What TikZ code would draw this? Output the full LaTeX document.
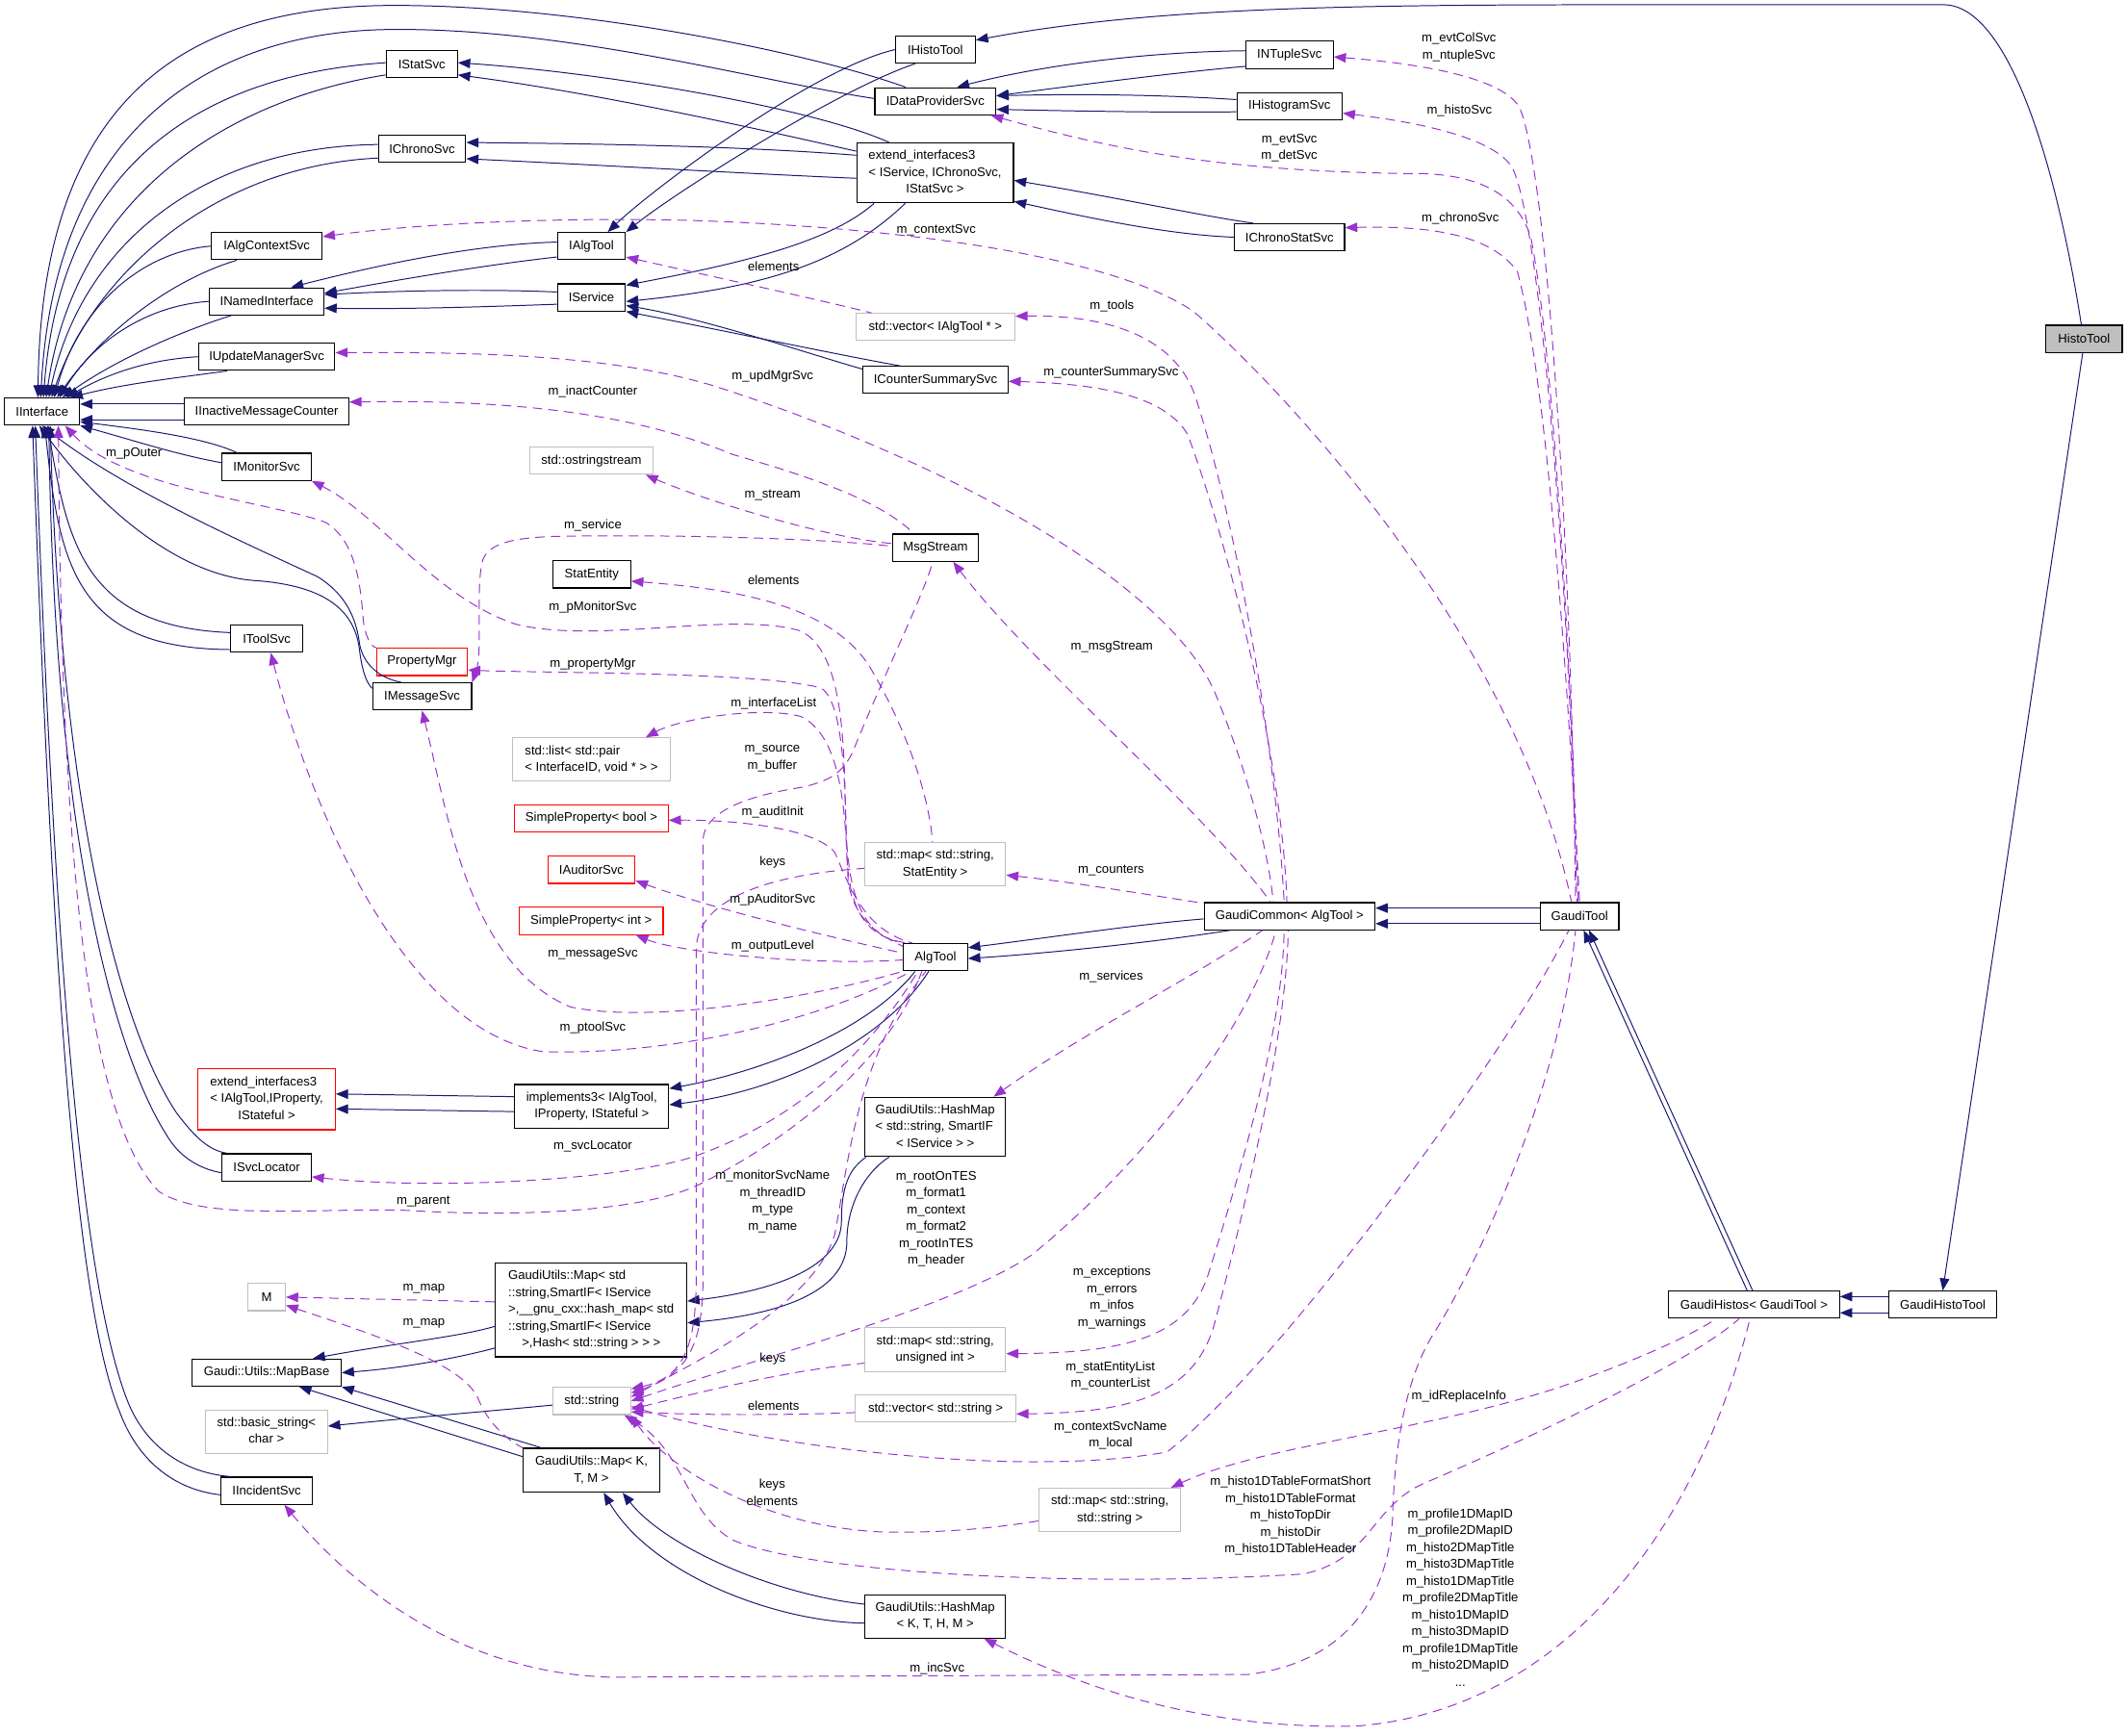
\documentclass[tikz,border=0pt]{standalone}
\usepackage{fontspec}
\setmainfont{Liberation Sans}
\usetikzlibrary{arrows.meta,positioning}
\definecolor{edgeblue}{HTML}{191970}
\definecolor{edgeviolet}{HTML}{9A32CD}
\definecolor{extgray}{HTML}{BFBFBF}
\newcommand{\dxfont}{\fontsize{9.3}{12.4}\selectfont}
\newcommand{\ml}[2]{\begin{tabular}{@{}l@{}}#1\\\multicolumn{1}{@{}c@{}}{#2}\end{tabular}}
\begin{document}
\begin{tikzpicture}[x=1pt,y=-1pt,
    clsbox/.style={draw=black, fill=white, line width=0.8pt, font=\dxfont, inner xsep=2pt, inner ysep=2pt, minimum height=20pt},
    extbox/.style={clsbox, draw=extgray},
    undocbox/.style={clsbox, draw=red},
    mainbox/.style={clsbox, fill=extgray},
    inh/.style={draw=edgeblue, line width=0.7pt, {Triangle[length=9pt,width=7pt]}-},
    usage/.style={draw=edgeviolet, line width=0.7pt, dash pattern=on 7pt off 4.5pt, {Triangle[length=9pt,width=7pt]}-},
    lbl/.style={font=\dxfont, inner sep=0pt, align=center}
  ]
    \useasboundingbox (0,0) rectangle (1568,1279);
    % classes
    \node[clsbox, minimum width=52.5pt] (IStatSvc) at (310.8,47.2) {IStatSvc};
    \node[clsbox, minimum width=64.3pt] (IChronoSvc) at (311,109.5) {IChronoSvc};
    \node[clsbox, minimum width=81.7pt] (IAlgCtx) at (196.5,181.4) {IAlgContextSvc};
    \node[clsbox, minimum width=84.3pt] (INamed) at (196.5,222.1) {INamedInterface};
    \node[clsbox, minimum width=100.4pt] (IUpd) at (196.5,262.9) {IUpdateManagerSvc};
    \node[clsbox, minimum width=55.3pt] (IIface) at (31,303.3) {IInterface};
    \node[clsbox, minimum width=121pt] (IInact) at (196.5,303.3) {IInactiveMessageCounter};
    \node[clsbox, minimum width=65.6pt] (IMon) at (196.5,344) {IMonitorSvc};
    \node[clsbox, minimum width=50.2pt] (IAlgTool) at (435.8,181.4) {IAlgTool};
    \node[clsbox, minimum width=50.2pt] (IService) at (435.8,219.2) {IService};
    \node[extbox, minimum width=90.4pt] (ostream) at (435.8,339.5) {std::ostringstream};
    \node[clsbox, minimum width=57.3pt] (StatEntity) at (436,423.3) {StatEntity};
    \node[clsbox, minimum width=58.9pt] (IHistoTool) at (689.2,36.6) {IHistoTool};
    \node[clsbox, minimum width=89.1pt] (IDataProv) at (689.2,74.6) {IDataProviderSvc};
    \node[clsbox, minimum width=115.5pt, minimum height=44.2pt] (extIS) at (689,127.4) {\ml{extend\_interfaces3\\< IService, IChronoSvc,}{IStatSvc >}};
    \node[clsbox, minimum width=64.2pt] (INTuple) at (950.2,40.4) {INTupleSvc};
    \node[clsbox, minimum width=77.6pt] (IHistSvc) at (950.2,78.4) {IHistogramSvc};
    \node[clsbox, minimum width=81pt] (IChronoStat) at (950.2,174.8) {IChronoStatSvc};
    \node[extbox, minimum width=117.1pt] (vecAlgTool) at (689.2,241) {std::vector< IAlgTool * >};
    \node[clsbox, minimum width=106.8pt] (ICounter) at (689.3,280) {ICounterSummarySvc};
    \node[clsbox, minimum width=63.2pt] (MsgStream) at (689.3,403.6) {MsgStream};
    \node[mainbox, minimum width=56.2pt] (HistoTool) at (1535.6,249.7) {HistoTool};
    \node[clsbox, minimum width=52.9pt] (IToolSvc) at (196.5,470.7) {IToolSvc};
    \node[undocbox, minimum width=66.9pt] (PropMgr) at (311,487.8) {PropertyMgr};
    \node[clsbox, minimum width=72.9pt] (IMsgSvc) at (311,513.3) {IMessageSvc};
    \node[extbox, minimum width=116.5pt, minimum height=32pt] (listPair) at (435.8,559.8) {\ml{std::list< std::pair}{< InterfaceID, void * > >}};
    \node[undocbox, minimum width=113.1pt] (SPbool) at (435.8,603) {SimpleProperty< bool >};
    \node[undocbox, minimum width=64.3pt] (IAuditor) at (435.8,641) {IAuditorSvc};
    \node[undocbox, minimum width=106.1pt] (SPint) at (435.6,678.7) {SimpleProperty< int >};
    \node[undocbox, minimum width=101.1pt, minimum height=44.8pt] (extAT) at (196.5,810.2) {\ml{extend\_interfaces3\\< IAlgTool,IProperty,}{IStateful >}};
    \node[clsbox, minimum width=113.5pt, minimum height=32pt] (impl3) at (436,815.2) {\ml{implements3< IAlgTool,}{IProperty, IStateful >}};
    \node[clsbox, minimum width=47.2pt] (AlgTool) at (689.3,705.4) {AlgTool};
    \node[extbox, minimum width=103.7pt, minimum height=32pt] (mapStat) at (689.1,636.9) {\ml{std::map< std::string,}{StatEntity >}};
    \node[clsbox, minimum width=125.8pt] (GCommon) at (950.2,675.2) {GaudiCommon< AlgTool >};
    \node[clsbox, minimum width=103.7pt, minimum height=43.7pt] (hashSvc) at (689.1,830.5) {\ml{GaudiUtils::HashMap\\< std::string, SmartIF}{< IService > >}};
    \node[clsbox, minimum width=57.9pt] (GaudiTool) at (1163.9,675.2) {GaudiTool};
    \node[clsbox, minimum width=65.6pt] (ISvcLoc) at (196.5,860.3) {ISvcLocator};
    \node[extbox, minimum width=27.5pt] (M) at (196.5,955.9) {M};
    \node[clsbox, minimum width=140.9pt, minimum height=69pt] (mapStd) at (435.6,965.4) {\ml{GaudiUtils::Map< std\\::string,SmartIF< IService\\>,\_\_gnu\_cxx::hash\_map< std\\::string,SmartIF< IService}{>,Hash< std::string > > >}};
    \node[clsbox, minimum width=109.8pt] (MapBase) at (196.5,1011.6) {Gaudi::Utils::MapBase};
    \node[extbox, minimum width=57.3pt] (stdstring) at (436,1032.5) {std::string};
    \node[extbox, minimum width=90pt, minimum height=32pt] (basicStr) at (196.3,1055) {\ml{std::basic\_string<}{char >}};
    \node[clsbox, minimum width=100.4pt, minimum height=32.4pt] (mapKTM) at (435.8,1083.5) {\ml{GaudiUtils::Map< K,}{T, M >}};
    \node[clsbox, minimum width=67.6pt] (IIncident) at (196.5,1098.6) {IIncidentSvc};
    \node[extbox, minimum width=103.7pt, minimum height=32.4pt] (mapUns) at (689.1,994.6) {\ml{std::map< std::string,}{unsigned int >}};
    \node[extbox, minimum width=118.2pt] (vecStr) at (689.3,1038) {std::vector< std::string >};
    \node[extbox, minimum width=104.1pt, minimum height=32.2pt] (mapStrStr) at (817.8,1112.8) {\ml{std::map< std::string,}{std::string >}};
    \node[clsbox, minimum width=103.7pt, minimum height=31.9pt] (hashKTHM) at (689.1,1191.2) {\ml{GaudiUtils::HashMap}{< K, T, H, M >}};
    \node[clsbox, minimum width=126pt] (GHistos) at (1292.4,961.5) {GaudiHistos< GaudiTool >};
    \node[clsbox, minimum width=79.3pt] (GHistoTool) at (1431.5,961.5) {GaudiHistoTool};
    % inheritance
    \draw[inh] ([xshift=-3pt]IIface.north) .. controls (30,60) and (150,4) .. (291,4) .. controls (430,4) and (600,40) .. ([xshift=-22pt]IDataProv.north);
    \draw[inh] ([xshift=-1pt]IIface.north) .. controls (40,100) and (150,22) .. (291,21.7) .. controls (420,21) and (560,60) .. ([yshift=2pt]IDataProv.west);
    \draw[inh] ([xshift=1pt]IIface.north) .. controls (45,120) and (150,55) .. ([yshift=1pt]IStatSvc.west);
    \draw[inh] ([xshift=3pt]IIface.north) .. controls (55,150) and (160,75) .. ([yshift=-8pt]IStatSvc.west);
    \draw[inh] ([xshift=5pt]IIface.north) .. controls (60,180) and (150,108) .. ([yshift=3pt]IChronoSvc.west);
    \draw[inh] ([xshift=7pt]IIface.north) .. controls (70,200) and (160,122) .. ([yshift=-7pt]IChronoSvc.west);
    \draw[inh] ([xshift=9pt]IIface.north) .. controls (60,220) and (110,185) .. (IAlgCtx.west);
    \draw[inh] ([xshift=11pt]IIface.north) .. controls (80,240) and (130,205) .. ([xshift=-22pt]IAlgCtx.south);
    \draw[inh] ([xshift=13pt]IIface.north) .. controls (70,250) and (110,225) .. (INamed.west);
    \draw[inh] ([xshift=15pt]IIface.north) .. controls (90,262) and (140,242) .. ([xshift=-26pt]INamed.south);
    \draw[inh] ([xshift=18pt]IIface.north) .. controls (80,275) and (110,265) .. (IUpd.west);
    \draw[inh] ([xshift=21pt]IIface.north) .. controls (95,282) and (135,278) .. ([xshift=-29pt]IUpd.south);
    \draw[inh] ([yshift=5.5pt]IIface.east) -- ([yshift=5.5pt]IInact.west);
    \draw[inh] ([yshift=-6pt]IIface.east) -- ([yshift=-6pt]IInact.west);
    \draw[inh] ([yshift=-7.5pt]IIface.east) .. controls (100,316) and (150,322) .. ([xshift=-22pt]IMon.north);
    \draw[inh] (IIface.south east) .. controls (100,325) and (130,335) .. ([yshift=3pt]IMon.west);
    \draw[inh] ([xshift=4pt]IIface.south) .. controls (50,400) and (62,462) .. ([yshift=4.5pt]IToolSvc.west);
    \draw[inh] ([xshift=2pt]IIface.south) .. controls (44,420) and (58,478) .. ([yshift=-8pt]IToolSvc.west);
    \draw[inh] ([xshift=-2pt]IIface.south) .. controls (70,370) and (130,425) .. (190,428) .. controls (240,432) and (262,450) .. (265,480) .. controls (267,495) and (270,503) .. ([yshift=6pt]IMsgSvc.west);
    \draw[inh] ([xshift=0pt]IIface.south) .. controls (90,360) and (180,400) .. (234,425) .. controls (258,440) and (263,460) .. (265,475) .. controls (268,490) and (280,500) .. ([xshift=-15pt]IMsgSvc.north);
    \draw[inh] ([xshift=6pt]IIface.south) .. controls (45,600) and (90,760) .. (130,820) .. controls (145,840) and (155,848) .. ([xshift=-29pt]ISvcLoc.north);
    \draw[inh] ([xshift=5pt]IIface.south) .. controls (40,620) and (85,780) .. (125,840) .. controls (135,855) and (150,862) .. ([yshift=-4pt]ISvcLoc.west);
    \draw[inh] ([xshift=-5pt]IIface.south) .. controls (40,700) and (60,950) .. (95,1035) .. controls (110,1070) and (140,1086) .. ([xshift=-26pt]IIncident.north);
    \draw[inh] ([xshift=-7pt]IIface.south) .. controls (38,700) and (55,960) .. (88,1040) .. controls (102,1078) and (130,1098) .. ([yshift=-3pt]IIncident.west);
    \draw[inh] ([yshift=7pt]IHistoTool.east) .. controls (850,5) and (1000,3.5) .. (1200,3.5) -- (1433,3.5) .. controls (1480,5) and (1515,120) .. ([xshift=-2pt]HistoTool.north);
    \draw[inh] (GHistoTool.north) -- ([xshift=-1pt]HistoTool.south);
    \draw[inh] ([yshift=6pt]GHistos.east) -- ([yshift=6pt]GHistoTool.west);
    \draw[inh] ([yshift=-6pt]GHistos.east) -- ([yshift=-6pt]GHistoTool.west);
    \draw[inh] ([xshift=3pt]GaudiTool.south) -- ([xshift=-5pt]GHistos.north);
    \draw[inh] ([xshift=7pt]GaudiTool.south) -- ([xshift=-1pt]GHistos.north);
    \draw[inh] ([yshift=6pt]GCommon.east) -- ([yshift=6pt]GaudiTool.west);
    \draw[inh] ([yshift=-5.5pt]GCommon.east) -- ([yshift=-5.5pt]GaudiTool.west);
    \draw[inh] ([yshift=7pt]AlgTool.east) .. controls (780,690) and (840,681) .. ([yshift=-2pt]GCommon.west);
    \draw[inh] ([yshift=-1pt]AlgTool.east) .. controls (780,702) and (860,693) .. ([xshift=-44pt]GCommon.south);
    \draw[inh] ([yshift=13pt]impl3.east) .. controls (560,790) and (640,760) .. ([xshift=-15pt]AlgTool.south);
    \draw[inh] ([yshift=1pt]impl3.east) .. controls (570,805) and (650,770) .. ([xshift=-5pt]AlgTool.south);
    \draw[inh] ([yshift=4pt]extAT.east) -- ([yshift=7pt]impl3.west);
    \draw[inh] ([yshift=-7pt]extAT.east) -- ([yshift=-4pt]impl3.west);
    \draw[inh] ([yshift=1pt]IStatSvc.east) .. controls (450,54) and (600,80) .. ([xshift=-34pt]extIS.north);
    \draw[inh] ([yshift=-8pt]IStatSvc.east) .. controls (450,70) and (580,100) .. ([yshift=16pt]extIS.west);
    \draw[inh] ([yshift=4.5pt]IChronoSvc.east) .. controls (450,106) and (550,108) .. ([yshift=13pt]extIS.west);
    \draw[inh] ([yshift=-7.5pt]IChronoSvc.east) .. controls (450,122) and (550,128) .. ([yshift=-4pt]extIS.west);
    \draw[inh] ([xshift=12pt]IAlgTool.north) .. controls (480,140) and (600,50) .. (IHistoTool.west);
    \draw[inh] (IAlgTool.north east) .. controls (500,140) and (620,65) .. ([xshift=-15pt]IHistoTool.south);
    \draw[inh] ([yshift=9pt]IService.east) .. controls (540,195) and (610,180) .. ([xshift=-45pt]extIS.south);
    \draw[inh] ([yshift=-3pt]IService.east) .. controls (560,212) and (620,195) .. ([xshift=-22pt]extIS.south);
    \draw[inh] ([yshift=-6pt]IService.east) .. controls (520,235) and (600,262) .. ([yshift=8pt]ICounter.west);
    \draw[inh] (IService.south east) .. controls (540,245) and (620,262) .. ([xshift=-26pt]ICounter.north);
    \draw[inh] ([xshift=18pt]INamed.north) .. controls (280,195) and (350,180) .. ([yshift=3pt]IAlgTool.west);
    \draw[inh] ([yshift=6pt]INamed.east) .. controls (300,205) and (360,195) .. ([yshift=-8pt]IAlgTool.west);
    \draw[inh] ([yshift=5pt]INamed.east) .. controls (300,214) and (360,213) .. ([yshift=4pt]IService.west);
    \draw[inh] ([yshift=-5pt]INamed.east) .. controls (300,228) and (360,226) .. ([yshift=-5pt]IService.west);
    \draw[inh] ([xshift=16pt]IDataProv.north) .. controls (780,45) and (860,38) .. ([yshift=3pt]INTuple.west);
    \draw[inh] ([yshift=4pt]IDataProv.east) .. controls (800,62) and (870,53) .. ([yshift=-8.5pt]INTuple.west);
    \draw[inh] ([yshift=4pt]IDataProv.east) .. controls (800,69) and (860,70) .. ([yshift=5pt]IHistSvc.west);
    \draw[inh] ([yshift=-6pt]IDataProv.east) .. controls (800,82) and (860,83) .. ([yshift=-4pt]IHistSvc.west);
    \draw[inh] ([yshift=-5.5pt]extIS.east) .. controls (820,145) and (890,160) .. ([xshift=-27pt]IChronoStat.north);
    \draw[inh] ([yshift=-21pt]extIS.east) .. controls (800,160) and (860,173) .. (IChronoStat.west);
    \draw[inh] ([yshift=6.5pt]mapStd.east) .. controls (580,950) and (620,930) .. (620,900) .. controls (620,870) and (628,860) .. ([xshift=-51pt]hashSvc.south);
    \draw[inh] ([yshift=-9.5pt]mapStd.east) .. controls (580,968) and (624,950) .. (624,915) .. controls (624,885) and (640,862) .. ([xshift=-34pt]hashSvc.south);
    \draw[inh] ([xshift=34pt]MapBase.north) .. controls (290,990) and (340,985) .. ([yshift=-12pt]mapStd.west);
    \draw[inh] (MapBase.east) .. controls (300,1008) and (340,1000) .. ([yshift=-28pt]mapStd.west);
    \draw[inh] (MapBase.south east) -- ([xshift=-37pt]mapKTM.north);
    \draw[inh] ([xshift=24pt]MapBase.south) -- ([yshift=10pt]mapKTM.west);
    \draw[inh] ([xshift=23pt]mapKTM.south) .. controls (490,1140) and (570,1175) .. ([yshift=9pt]hashKTHM.west);
    \draw[inh] ([xshift=9pt]mapKTM.south) .. controls (480,1160) and (570,1195) .. ([yshift=-5pt]hashKTHM.west);
    \draw[inh] ([yshift=4pt]basicStr.east) .. controls (300,1045) and (360,1040) .. ([yshift=-3pt]stdstring.west);
    % members
    \draw[usage] ([yshift=-1.5pt]INTuple.east) .. controls (1060,48) and (1110,60) .. (1120,80) .. controls (1140,130) and (1158,400) .. ([xshift=-3pt]GaudiTool.north);
    \draw[usage] ([yshift=-5pt]IHistSvc.east) .. controls (1060,92) and (1105,105) .. (1115,125) .. controls (1135,170) and (1156,420) .. ([xshift=-2pt]GaudiTool.north);
    \draw[usage] ([xshift=41pt]IDataProv.south) .. controls (820,110) and (900,127) .. (1049.6,128) .. controls (1100,130) and (1120,150) .. (1128,175) .. controls (1145,260) and (1158,500) .. ([xshift=-1pt]GaudiTool.north);
    \draw[usage] ([yshift=7pt]IChronoStat.east) .. controls (1060,166) and (1100,175) .. (1118,200) .. controls (1140,280) and (1155,500) .. (GaudiTool.north);
    \draw[usage] ([yshift=7pt]IAlgCtx.east) .. controls (330,162) and (450,160) .. (524.8,163) .. controls (700,170) and (830,195) .. (880,230) .. controls (960,300) and (1120,480) .. ([xshift=-6pt]GaudiTool.north);
    \draw[usage] ([yshift=8pt]vecAlgTool.east) .. controls (820,232) and (865,250) .. (880,290) .. controls (910,380) and (940,550) .. ([xshift=-4pt]GCommon.north);
    \draw[usage] ([yshift=-1pt]ICounter.east) .. controls (820,283) and (860,295) .. (875,320) .. controls (905,400) and (945,560) .. ([xshift=-2pt]GCommon.north);
    \draw[usage] ([yshift=3pt]IUpd.east) .. controls (380,259) and (460,265) .. (524.8,284) .. controls (700,340) and (860,430) .. (895,510) .. controls (920,570) and (935,630) .. ([xshift=-12pt]GCommon.north);
    \draw[usage] ([yshift=7pt]IInact.east) .. controls (400,294) and (480,310) .. (540,335) .. controls (600,352) and (650,370) .. ([xshift=-16pt]MsgStream.north);
    \draw[usage] ([xshift=40pt]ostream.south) .. controls (510,365) and (600,395) .. ([yshift=3pt]MsgStream.west);
    \draw[usage] (IMsgSvc.north east) .. controls (356,480) and (350,430) .. (356,412) .. controls (362,398) and (385,395) .. (430,395) .. controls (520,394) and (620,398) .. ([yshift=1pt]MsgStream.west);
    \draw[usage] ([yshift=-6pt]PropMgr.east) .. controls (400,496) and (560,495) .. (605,507) .. controls (625,520) and (622,600) .. (625,650) .. controls (630,680) and (650,690) .. ([yshift=8pt]AlgTool.west);
    \draw[usage] (IMon.south east) .. controls (280,380) and (320,440) .. (380,460) .. controls (440,475) and (540,450) .. (590,465) .. controls (620,480) and (622,540) .. (623,600) .. controls (624,670) and (640,690) .. (AlgTool.north west);
    \draw[usage] ([xshift=40pt]listPair.north) .. controls (500,530) and (560,520) .. (590,528) .. controls (615,540) and (622,580) .. (624,630) .. controls (626,680) and (645,692) .. ([xshift=-20pt]AlgTool.north);
    \draw[usage] ([yshift=-1.5pt]SPbool.east) .. controls (540,604) and (600,610) .. (615,628) .. controls (625,650) and (635,685) .. ([xshift=-17pt]AlgTool.north);
    \draw[usage] ([yshift=-8pt]IAuditor.east) .. controls (520,668) and (600,688) .. ([yshift=3pt]AlgTool.west);
    \draw[usage] ([xshift=33pt]SPint.south) .. controls (500,702) and (600,712) .. ([yshift=-2pt]AlgTool.west);
    \draw[usage] (IMsgSvc.south) .. controls (330,600) and (345,710) .. (420,742) .. controls (480,755) and (600,735) .. (AlgTool.south west);
    \draw[usage] ([xshift=3pt]IToolSvc.south) .. controls (230,600) and (300,760) .. (400,775) .. controls (500,778) and (610,750) .. ([xshift=-18pt]AlgTool.south);
    \draw[usage] ([yshift=-7pt]ISvcLoc.east) .. controls (330,878) and (470,868) .. (515,851) .. controls (600,820) and (650,760) .. ([xshift=-13pt]AlgTool.south);
    \draw[usage] ([xshift=12pt]IIface.south) .. controls (45,600) and (60,820) .. (117,878) .. controls (150,900) and (230,890) .. (300,892) .. controls (400,898) and (480,890) .. (515,873) .. controls (600,830) and (660,770) .. ([xshift=-10pt]AlgTool.south);
    \draw[usage] ([xshift=17pt]IIface.south) .. controls (90,360) and (200,370) .. (240,385) .. controls (265,400) and (266,440) .. (268,460) .. controls (270,470) and (273,476) .. (PropMgr.north west);
    \draw[usage] ([yshift=-8pt]IAlgTool.east) .. controls (530,205) and (600,220) .. ([xshift=-47pt]vecAlgTool.north);
    \draw[usage] ([xshift=13pt]MsgStream.south) .. controls (760,490) and (890,600) .. ([xshift=-14pt]GCommon.north);
    \draw[usage] ([yshift=-5pt]StatEntity.east) .. controls (540,434) and (610,445) .. (640,490) .. controls (670,540) and (685,590) .. ([xshift=-2pt]mapStat.north);
    \draw[usage] ([yshift=-8pt]mapStat.east) .. controls (790,650) and (850,660) .. ([yshift=9.5pt]GCommon.west);
    \draw[usage] ([yshift=9pt]stdstring.east) .. controls (505,1015) and (513,990) .. (513,940) -- (513,700) .. controls (513,665) and (560,645) .. ([yshift=-3pt]mapStat.west);
    \draw[usage] ([yshift=6pt]stdstring.east) .. controls (508,1012) and (518,990) .. (518,940) -- (518,620) .. controls (518,595) and (560,585) .. (592,580) .. controls (612,575) and (620,570) .. (628,555) .. controls (650,500) and (680,440) .. ([xshift=-2pt]MsgStream.south);
    \draw[usage] ([yshift=3pt]stdstring.east) .. controls (520,1000) and (600,960) .. (615,910) .. controls (625,860) and (630,780) .. ([xshift=-7pt]AlgTool.south);
    \draw[usage] (stdstring.east) .. controls (560,1000) and (700,965) .. (760,925) .. controls (840,860) and (920,760) .. ([xshift=-10pt]GCommon.south);
    \draw[usage] ([yshift=-3pt]mapUns.east) .. controls (830,997) and (875,985) .. (890,940) .. controls (915,860) and (945,760) .. ([xshift=-4pt]GCommon.south);
    \draw[usage] ([yshift=-4pt]vecStr.east) .. controls (830,1041) and (880,1030) .. (895,975) .. controls (920,880) and (948,760) .. ([xshift=-1pt]GCommon.south);
    \draw[usage] ([yshift=-4pt]stdstring.east) .. controls (560,1065) and (750,1090) .. (860,1070) .. controls (950,1000) and (1120,760) .. ([xshift=-8pt]GaudiTool.south);
    \draw[usage] ([xshift=43pt]hashSvc.north) .. controls (800,760) and (880,720) .. ([xshift=-20pt]GCommon.south);
    \draw[usage] ([yshift=-6pt]stdstring.east) .. controls (520,1025) and (580,1010) .. ([yshift=-10pt]mapUns.west);
    \draw[usage] ([yshift=-8pt]stdstring.east) .. controls (520,1043) and (580,1043) .. ([yshift=-3pt]vecStr.west);
    \draw[usage] (stdstring.south east) .. controls (490,1080) and (560,1125) .. (650,1129) .. controls (700,1130) and (740,1125) .. ([yshift=-8pt]mapStrStr.west);
    \draw[usage] ([xshift=45pt]mapStrStr.north) .. controls (930,1065) and (1050,1055) .. (1150,1022) .. controls (1200,1005) and (1245,985) .. ([xshift=-28pt]GHistos.south);
    \draw[usage] ([xshift=-5pt]stdstring.south east) .. controls (505,1070) and (505,1115) .. (540,1135) .. controls (600,1160) and (800,1170) .. (960,1160) .. controls (1010,1150) and (1010,1110) .. (1049.6,1093) .. controls (1150,1050) and (1250,1000) .. ([xshift=-11pt]GHistos.south);
    \draw[usage] ([xshift=36pt]hashKTHM.south) .. controls (790,1240) and (880,1275) .. (1000,1272) .. controls (1150,1260) and (1250,1130) .. ([xshift=-3pt]GHistos.south);
    \draw[usage] ([xshift=13pt]IIncident.south) .. controls (260,1170) and (340,1233) .. (450,1236) -- (920,1234) .. controls (990,1225) and (1022,1180) .. (1026,1120) .. controls (1028,1050) and (1040,1010) .. (1055,985) .. controls (1090,930) and (1150,800) .. ([xshift=-3pt]GaudiTool.south);
    \draw[usage] (M.east) -- ([yshift=6pt]mapStd.west);
    \draw[usage] ([yshift=-6pt]M.east) .. controls (280,985) and (340,1005) .. (352,1030) .. controls (360,1050) and (375,1062) .. (mapKTM.north west);
    % member labels
    \node[lbl] (lEvtCol) at (1075,35) {m\_evtColSvc\\m\_ntupleSvc};
    \node[lbl] (lHisto) at (1075.4,81.7) {m\_histoSvc};
    \node[lbl] (lEvt) at (950,109) {m\_evtSvc\\m\_detSvc};
    \node[lbl] (lChrono) at (1076,160.7) {m\_chronoSvc};
    \node[lbl] (lCtx) at (689.8,169.9) {m\_contextSvc};
    \node[lbl] (lElemAT) at (570,196) {elements};
    \node[lbl] (lTools) at (819.3,225.8) {m\_tools};
    \node[lbl] (lCounterSum) at (818.7,274.9) {m\_counterSummarySvc};
    \node[lbl] (lUpd) at (569.3,277.6) {m\_updMgrSvc};
    \node[lbl] (lInact) at (436.8,289) {m\_inactCounter};
    \node[lbl] (lOuter) at (98.7,334.4) {m\_pOuter};
    \node[lbl] (lStream) at (569.3,365) {m\_stream};
    \node[lbl] (lService) at (436.8,387.6) {m\_service};
    \node[lbl] (lElemSE) at (570,427.7) {elements};
    \node[lbl] (lPMon) at (436.8,447.8) {m\_pMonitorSvc};
    \node[lbl] (lMsgStream) at (819.3,477) {m\_msgStream};
    \node[lbl] (lPropMgr) at (436.8,489.8) {m\_propertyMgr};
    \node[lbl] (lIfList) at (570,518.3) {m\_interfaceList};
    \node[lbl] (lSource) at (569,559) {m\_source\\m\_buffer};
    \node[lbl] (lAudit) at (569.3,598.7) {m\_auditInit};
    \node[lbl] (lKeysSE) at (569.3,635.8) {keys};
    \node[lbl] (lCounters) at (818.7,641.8) {m\_counters};
    \node[lbl] (lPAud) at (569.3,663.5) {m\_pAuditorSvc};
    \node[lbl] (lOutLvl) at (569.3,697.4) {m\_outputLevel};
    \node[lbl] (lMsgSvc) at (436.8,703.1) {m\_messageSvc};
    \node[lbl] (lServices) at (818.7,719.7) {m\_services};
    \node[lbl] (lToolSvc) at (436.8,757.4) {m\_ptoolSvc};
    \node[lbl] (lSvcLoc) at (436.8,844.8) {m\_svcLocator};
    \node[lbl] (lParent) at (312,885.6) {m\_parent};
    \node[lbl] (lMonName) at (569.3,885.4) {m\_monitorSvcName\\m\_threadID\\m\_type\\m\_name};
    \node[lbl] (lRoot) at (689.8,898.4) {m\_rootOnTES\\m\_format1\\m\_context\\m\_format2\\m\_rootInTES\\m\_header};
    \node[lbl] (lExc) at (819.3,956.4) {m\_exceptions\\m\_errors\\m\_infos\\m\_warnings};
    \node[lbl] (lMapA) at (312.3,950) {m\_map};
    \node[lbl] (lMapB) at (312.3,975.1) {m\_map};
    \node[lbl] (lKeysU) at (569.3,1001.5) {keys};
    \node[lbl] (lStatList) at (818.2,1013.7) {m\_statEntityList\\m\_counterList};
    \node[lbl] (lElemVS) at (570,1035.9) {elements};
    \node[lbl] (lCtxName) at (818.3,1058) {m\_contextSvcName\\m\_local};
    \node[lbl] (lIdRep) at (1075,1029.3) {m\_idReplaceInfo};
    \node[lbl] (lKeysSS) at (569,1099.8) {keys\\elements};
    \node[lbl] (lHistoFmt) at (950.9,1117.1) {m\_histo1DTableFormatShort\\m\_histo1DTableFormat\\m\_histoTopDir\\m\_histoDir\\m\_histo1DTableHeader};
    \node[lbl] (lProfile) at (1076,1177.3) {m\_profile1DMapID\\m\_profile2DMapID\\m\_histo2DMapTitle\\m\_histo3DMapTitle\\m\_histo1DMapTitle\\m\_profile2DMapTitle\\m\_histo1DMapID\\m\_histo3DMapID\\m\_profile1DMapTitle\\m\_histo2DMapID\\...};
    \node[lbl] (lIncSvc) at (690.5,1230) {m\_incSvc};
  \end{tikzpicture}
\end{document}
